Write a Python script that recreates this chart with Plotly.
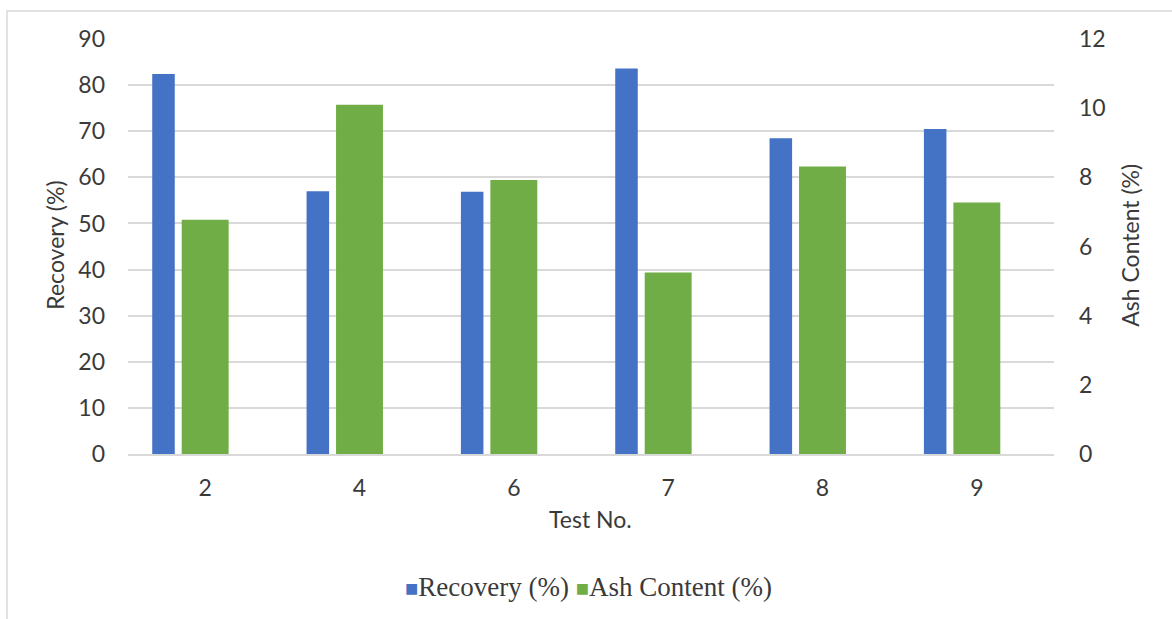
import plotly.graph_objects as go

# Flotation test results
tests = ["2", "4", "6", "7", "8", "9"]
recovery = [82.4, 57.0, 56.9, 83.6, 68.5, 70.5]      # %
ash_content = [6.77, 10.1, 7.92, 5.25, 8.31, 7.27]   # %
series_names = ["Recovery (%)", "Ash Content (%)"]

BLUE = "#4472C4"
GREEN = "#70AD47"
GRID = "#D9D9D9"
TEXT = "#3A3A3A"
SANS = "Lato, Open Sans, sans-serif"
SERIF = "Liberation Serif, Times New Roman, serif"

fig = go.Figure()
fig.add_trace(go.Bar(
    x=tests, y=recovery, name=series_names[0],
    marker=dict(color=BLUE, line=dict(width=0)),
    offset=-0.343, width=0.146, yaxis="y",
))
fig.add_trace(go.Bar(
    x=tests, y=ash_content, name=series_names[1],
    marker=dict(color=GREEN, line=dict(width=0)),
    offset=-0.152, width=0.304, yaxis="y2",
))

# compact legend line: small coloured squares set tight against the labels
legend_text = (
    f"<span style='color:{BLUE};font-size:22px'>■</span>{series_names[0]} "
    f"<span style='color:{GREEN};font-size:22px'>■</span>{series_names[1]}"
)

fig.update_layout(
    width=1172, height=619,
    margin=dict(l=128, r=118, t=39, b=165),
    paper_bgcolor="white", plot_bgcolor="white",
    font=dict(family=SANS, size=22, color=TEXT),
    barmode="overlay",
    showlegend=False,
    xaxis=dict(
        type="category", showgrid=False, showline=True, linecolor=GRID, linewidth=1.5,
        ticks="", ticklabelstandoff=13, tickfont=dict(size=23, color=TEXT),
        range=[-0.5, 5.5],
    ),
    yaxis=dict(
        range=[0, 90], dtick=10, showgrid=True, gridcolor=GRID, gridwidth=1.5,
        zeroline=False, showline=False, ticks="", ticklabelstandoff=22,
        tickfont=dict(size=23, color=TEXT),
    ),
    yaxis2=dict(
        range=[0, 12], dtick=2, overlaying="y", side="right", showgrid=False,
        zeroline=False, showline=False, ticks="", ticklabelstandoff=24,
        tickfont=dict(size=23, color=TEXT),
    ),
    annotations=[
        dict(text=series_names[0], xref="paper", yref="paper", x=-0.079, y=0.504,
             textangle=-90, showarrow=False, font=dict(size=23, color=TEXT),
             xanchor="center", yanchor="middle"),
        dict(text=series_names[1], xref="paper", yref="paper", x=1.082, y=0.504,
             textangle=-90, showarrow=False, font=dict(size=23, color=TEXT),
             xanchor="center", yanchor="middle"),
        dict(text="Test No.", xref="paper", yref="paper", x=0.499, y=-0.157,
             showarrow=False, font=dict(size=23, color=TEXT),
             xanchor="center", yanchor="middle"),
        dict(text=legend_text, xref="paper", yref="paper", x=0.497, y=-0.32,
             showarrow=False, font=dict(family=SERIF, size=27, color=TEXT),
             xanchor="center", yanchor="middle"),
    ],
    shapes=[
        dict(type="rect", xref="paper", yref="paper",
             x0=-0.1307, x1=1.15, y0=-0.41, y1=1.0675,
             line=dict(color=GRID, width=1.5), fillcolor="rgba(0,0,0,0)", layer="below"),
    ],
)

fig.write_html("out.html")
